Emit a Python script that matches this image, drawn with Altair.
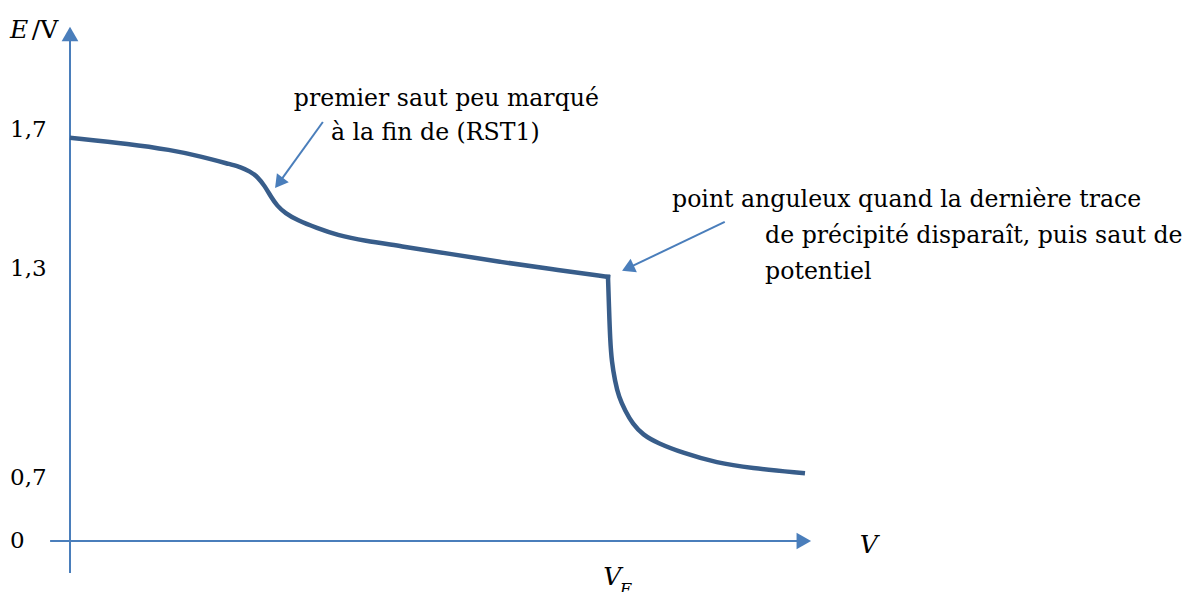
import altair as alt
import pandas as pd

# ---- data ----
# titration curve, part before the equivalence volume (V_E = 10 units)
seg_a_v = [0.04, 1.12, 1.86, 2.42, 3.03, 3.16, 3.35, 3.49, 3.62, 3.74, 3.85, 4.00, 4.22, 4.59, 4.96, 5.48, 6.13, 7.06, 7.99, 8.92, 10.0]
seg_a_e = [1.677, 1.660, 1.643, 1.625, 1.599, 1.594, 1.581, 1.565, 1.539, 1.507, 1.482, 1.461, 1.441, 1.418, 1.398, 1.381, 1.367, 1.344, 1.321, 1.301, 1.278]
# part after the equivalence volume
seg_b_v = [10.0, 10.02, 10.04, 10.07, 10.13, 10.20, 10.32, 10.46, 10.65, 10.91, 11.39, 12.03, 12.64, 13.62]
seg_b_e = [1.278, 1.183, 1.097, 1.033, 0.979, 0.933, 0.893, 0.855, 0.824, 0.801, 0.772, 0.743, 0.729, 0.714]

tick_values = [0, 0.7, 1.3, 1.7]
tick_labels = ["0", "0,7", "1,3", "1,7"]

annot_lines = [
    "premier saut peu marqué",
    "à la fin de (RST1)",
    "point anguleux quand la dernière trace",
    "de précipité disparaît, puis saut de",
    "potentiel",
]
annot_v = [4.16, 4.85, 11.19, 12.92, 12.92]
annot_e = [1.769, 1.671, 1.479, 1.375, 1.272]

# annotation arrows: start -> head
arrow_v1 = [4.70, 12.17]
arrow_e1 = [1.723, 1.436]
arrow_v2 = [3.884, 10.37]
arrow_e2 = [1.548, 1.303]
arrow_angle = [217, 245]

# ---- scales ----
xs = alt.Scale(domain=[0, 10], range=[62, 600])
ys = alt.Scale(domain=[0, 0.7, 1.7], range=[533, 470, 122])

FONT = "DejaVu Serif"
AXIS_COL = "#4A7EBB"
CURVE_COL = "#385D8A"

curve_df = pd.DataFrame({
    "V": seg_a_v + seg_b_v,
    "E": seg_a_e + seg_b_e,
    "seg": ["a"] * len(seg_a_v) + ["b"] * len(seg_b_v),
})

X = lambda f="V": alt.X(f, type="quantitative", scale=xs, axis=None)
Y = lambda f="E": alt.Y(f, type="quantitative", scale=ys, axis=None)

curve = alt.Chart(curve_df).mark_line(
    interpolate="basis", strokeWidth=4.5, color=CURVE_COL, strokeCap="square"
).encode(x=X(), y=Y(), detail="seg:N")

# axes drawn as rules + triangle heads
axes_df = pd.DataFrame({
    "V": [-0.37, 0.0], "V2": [13.52, 0.0],
    "E": [0.0, -0.356], "E2": [0.0, 1.956],
})
axes = alt.Chart(axes_df).mark_rule(color=AXIS_COL, strokeWidth=2).encode(
    x=X(), x2="V2", y=Y(), y2="E2"
)
heads_df = pd.DataFrame({"V": [13.64, 0.0], "E": [0.0, 1.976], "shape": ["triangle-right", "triangle-up"]})
heads = alt.Chart(heads_df).mark_point(filled=True, size=280, color=AXIS_COL, opacity=1).encode(
    x=X(), y=Y(), shape=alt.Shape("shape:N", scale=None)
)

# annotation arrows
arr_df = pd.DataFrame({"V": arrow_v1, "E": arrow_e1, "V2": arrow_v2, "E2": arrow_e2, "ang": arrow_angle})
arr_lines = alt.Chart(arr_df).mark_rule(color=AXIS_COL, strokeWidth=2).encode(
    x=X(), x2="V2", y=Y(), y2="E2"
)
arr_heads = alt.Chart(arr_df).mark_point(
    shape="triangle-up", filled=True, size=220, color=AXIS_COL, opacity=1
).encode(x=X("V2"), y=Y("E2"), angle=alt.Angle("ang:Q", scale=None))

# tick labels
tick_df = pd.DataFrame({"E": tick_values, "label": tick_labels, "V": [-1.115] * 4})
ticks = alt.Chart(tick_df).mark_text(
    align="left", baseline="middle", font=FONT, fontSize=23, color="black"
).encode(x=X(), y=Y(), text="label:N")

# annotation text
ann_df = pd.DataFrame({"V": annot_v, "E": annot_e, "t": annot_lines})
ann = alt.Chart(ann_df).mark_text(
    align="left", baseline="alphabetic", font=FONT, fontSize=23.6, color="black"
).encode(x=X(), y=Y(), text="t:N")

# axis titles
it_df = pd.DataFrame({"V": [-1.115, 14.68, 9.91], "E": [1.964, -0.133, -0.489], "t": ["E", "V", "V"]})
italics = alt.Chart(it_df).mark_text(
    align="left", baseline="alphabetic", font=FONT, fontSize=25, fontStyle="italic", color="black"
).encode(x=X(), y=Y(), text="t:N")
unit_df = pd.DataFrame({"V": [-0.71], "E": [1.964], "t": ["/V"]})
unit = alt.Chart(unit_df).mark_text(
    align="left", baseline="alphabetic", font=FONT, fontSize=25, color="black"
).encode(x=X(), y=Y(), text="t:N")
sub_df = pd.DataFrame({"V": [10.22], "E": [-0.60], "t": ["E"]})
sub = alt.Chart(sub_df).mark_text(
    align="left", baseline="alphabetic", font=FONT, fontSize=17, fontStyle="italic", color="black"
).encode(x=X(), y=Y(), text="t:N")

chart = alt.layer(
    axes, heads, curve, arr_lines, arr_heads, ticks, ann, italics, unit, sub
).properties(
    width=1183, height=584, padding=0,
    autosize=alt.AutoSizeParams(type="none"),
    background="white",
).configure_view(stroke=None)

chart.save("out.html", embed_options={"renderer": "svg", "actions": False})
